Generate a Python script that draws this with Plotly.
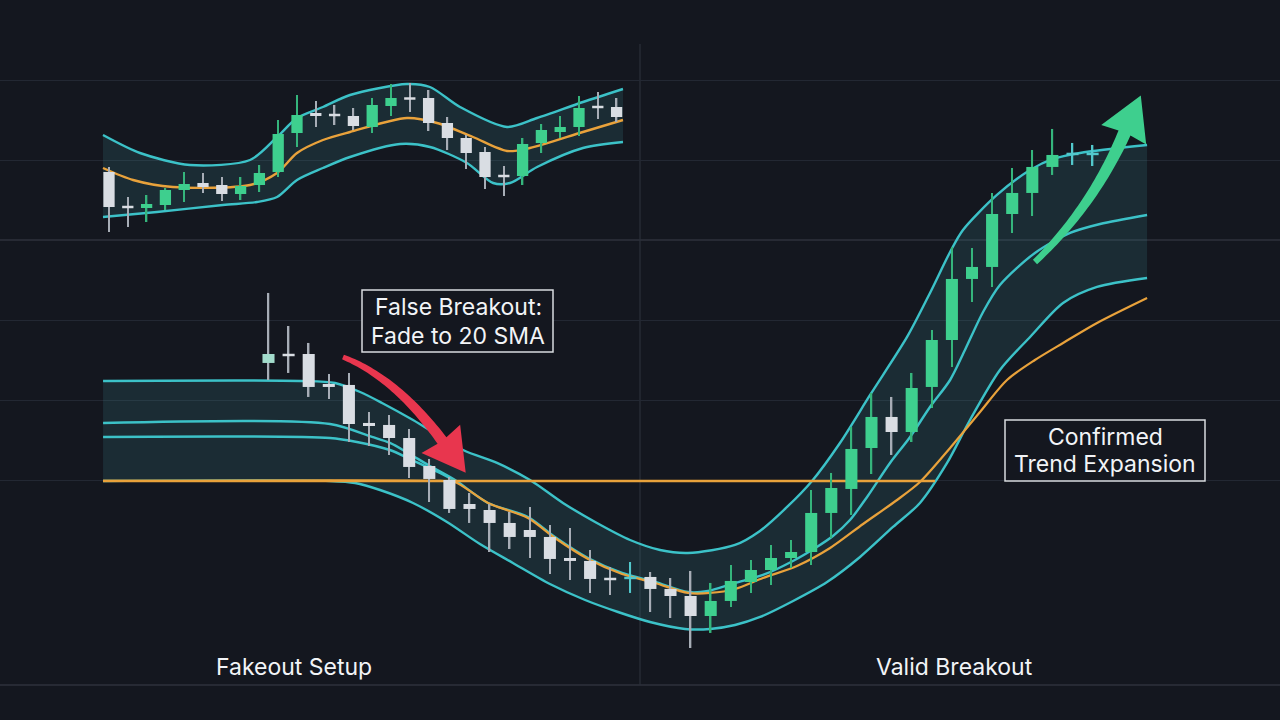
import math
import plotly.graph_objects as go

# ---------------- colours ----------------
BG = "#14171f"
GRID = "#232833"
SEP = "#3a3f4a"
CYAN = "#3cc2c8"
ORANGE = "#e9a23b"
GREEN = "#3ecf8e"
WHITE = "#d9dde3"
BAND_FILL = "rgba(56,130,140,0.20)"
TEXT = "#f2f4f7"
RED = "#e8364e"

BODY_COL = {"g": GREEN, "w": WHITE, "m": "#a3dccc", "t": "#52c8cc"}
WICK_COL = {"g": "#35b57c", "w": "#a7adb6", "m": "#a7adb6", "t": "#52c8cc"}

# ---------------- main chart data (bar index / price) ----------------
main_open = [54.63, 55.75, 55.75, 52.0, 51.88, 47.13, 46.88, 45.25, 41.75, 40.0, 37.0, 36.25, 34.63, 33.75,
             32.88, 30.25, 29.88, 27.75, 27.88, 27.88, 26.38, 25.5, 23.0, 24.88, 27.25, 28.75, 30.25, 31.0,
             35.88, 38.88, 44.0, 47.88, 46.0, 51.63, 57.5, 65.13, 66.63, 73.25, 75.88, 79.13, 80.63, 80.63]
main_close = [55.75, 55.5, 51.63, 51.63, 47.0, 46.75, 45.25, 41.63, 40.13, 36.38, 36.38, 34.63, 32.88, 32.88,
              30.13, 29.88, 27.63, 27.5, 27.63, 26.38, 25.5, 23.0, 24.88, 27.38, 28.75, 30.25, 31.0, 35.88,
              39.0, 43.88, 47.88, 46.0, 51.5, 57.5, 65.13, 66.63, 73.25, 75.88, 79.13, 80.63, 80.88, 80.88]
main_high = [63.38, 59.25, 57.13, 53.25, 53.38, 48.5, 48.13, 46.38, 42.63, 40.38, 38.38, 37.0, 36.0, 36.63,
             34.38, 34.0, 31.25, 29.13, 29.75, 28.5, 27.75, 28.63, 27.13, 29.38, 30.0, 31.88, 32.5, 38.75,
             40.88, 46.63, 50.88, 50.38, 53.38, 58.75, 69.13, 69.0, 75.88, 79.0, 81.25, 83.88, 82.13, 81.88]
main_low = [52.5, 53.38, 50.38, 50.13, 44.75, 44.25, 43.13, 40.25, 37.25, 35.88, 34.63, 31.0, 31.38, 30.25,
            28.25, 27.5, 25.88, 25.63, 25.88, 23.5, 22.75, 19.0, 20.88, 24.13, 25.88, 26.88, 29.0, 29.38,
            32.75, 35.63, 40.75, 43.13, 44.75, 49.0, 54.13, 62.25, 64.13, 70.88, 73.0, 78.13, 79.38, 79.25]
main_kind = ["m"] + ["w"] * 17 + ["t"] + ["w"] * 3 + ["g"] * 9 + ["w"] + ["g"] * 8 + ["t", "t"]

upper_x = [-8.23, 1.57, 3.31, 4.56, 5.65, 7.19, 9.68, 11.37, 13.01, 14.65, 16.34, 17.99, 19.48, 20.87,
           23.21, 24.45, 25.80, 27.04, 28.43, 29.93, 31.77, 32.91, 33.91, 34.55, 36.24, 37.89, 39.03, 40.37, 43.71]
upper_y = [52.38, 52.38, 52.13, 51.0, 49.63, 47.5, 43.75, 42.13, 40.0, 37.13, 34.63, 32.5, 31.25, 30.88,
           31.88, 33.63, 36.63, 39.88, 44.63, 50.63, 57.88, 63.38, 68.5, 71.25, 75.63, 78.75, 80.13, 80.88, 81.88]

mid_x = [-8.23, 3.06, 5.15, 6.04, 6.94, 7.94, 9.28, 10.92, 12.91, 14.25, 15.90, 17.59, 19.23, 20.87, 21.87,
         23.21, 24.60, 26.09, 27.28, 28.08, 28.93, 29.78, 30.92, 31.92, 32.91, 33.91, 34.65, 35.55, 36.39,
         38.13, 39.88, 41.37, 43.71]
mid_y = [47.13, 47.0, 45.38, 44.63, 43.38, 41.88, 40.0, 37.13, 35.38, 32.88, 30.25, 28.38, 27.25, 26.0, 26.13,
         27.13, 28.13, 29.88, 31.63, 33.0, 35.0, 37.88, 42.13, 45.38, 49.13, 52.5, 56.25, 61.0, 64.38,
         68.38, 70.88, 72.0, 73.13]

mid2_x = [-8.23, 3.06, 4.40, 6.04, 7.14, 8.53, 9.38]
mid2_y = [45.38, 45.25, 44.75, 43.75, 42.5, 40.88, 39.75]

lower_x = [-8.23, 3.06, 4.31, 5.55, 7.19, 8.88, 10.52, 12.16, 14.00, 15.75, 17.39, 18.98, 20.72, 21.97, 23.21,
           24.46, 26.10, 27.79, 29.43, 31.07, 32.41, 33.76, 34.90, 36.39, 37.89, 39.53, 41.22, 43.71]
lower_y = [39.88, 39.88, 39.63, 38.75, 37.13, 34.75, 32.0, 29.63, 27.0, 25.0, 23.5, 22.25, 21.38, 21.38, 21.88,
           22.88, 24.88, 27.25, 30.38, 34.13, 37.13, 42.13, 47.5, 53.75, 57.88, 62.13, 64.13, 65.25]

sma_x = [-8.23, 8.53, 9.28, 10.92, 12.91, 14.25, 15.90, 17.59, 19.23, 20.87, 21.97, 23.21, 24.60, 26.29,
         27.94, 29.58, 31.27, 32.41, 33.91, 35.40, 36.74, 38.13, 39.53, 41.22, 43.71]
sma_y = [39.88, 39.88, 39.75, 37.13, 35.25, 32.75, 30.13, 28.25, 27.13, 25.88, 25.88, 26.38, 27.75, 29.25,
         31.5, 34.5, 37.5, 39.75, 44.0, 48.5, 52.5, 55.0, 57.13, 59.63, 62.75]

level_x = [-8.23, 33.16]
level_y = [39.88, 39.88]

grid_prices = [40, 50, 60, 80, 90]
separator_price = 70

# ---------------- inset chart data ----------------
top_open = [57.0, 48.5, 48.0, 48.75, 52.5, 54.25, 53.75, 51.5, 53.75, 57.0, 66.75, 71.75, 71.5, 71.0,
            68.25, 73.5, 75.5, 75.5, 69.25, 65.5, 62.0, 56.25, 56.0, 64.25, 67.0, 68.25, 73.5, 73.25]
top_close = [48.25, 48.0, 49.0, 52.5, 54.0, 53.25, 51.5, 53.5, 56.75, 66.5, 71.25, 71.0, 71.0, 68.5,
             73.75, 75.5, 75.25, 69.25, 65.5, 61.75, 55.75, 55.75, 64.0, 67.5, 68.25, 73.0, 73.0, 70.75]
top_high = [58.25, 50.75, 51.25, 53.0, 57.0, 56.75, 55.75, 55.75, 58.75, 70.0, 76.25, 74.75, 73.75, 73.0,
            75.5, 79.0, 79.25, 77.5, 70.75, 66.25, 63.25, 58.5, 65.5, 69.0, 71.0, 76.0, 77.0, 75.5]
top_low = [42.0, 43.25, 44.5, 47.5, 49.5, 51.75, 49.75, 50.0, 52.0, 55.75, 63.25, 68.25, 68.75, 67.5,
           66.75, 71.0, 72.0, 67.25, 62.5, 57.75, 52.75, 51.0, 53.75, 61.75, 65.5, 66.0, 70.25, 69.5]
top_kind = list("wwgggwwggggwwwggwwwwwwggggww")

top_upper_x = [-0.32, 1.65, 4.31, 7.5, 8.94, 10.0, 11.38, 12.82, 15.85, 17.07, 18.67, 21.17, 22.77, 25.21, 27.34]
top_upper_y = [66.25, 61.75, 58.75, 60.0, 65.75, 70.5, 73.25, 76.25, 79.0, 78.25, 73.25, 68.25, 70.5, 74.5, 77.75]
top_mid_x = [-0.32, 1.28, 3.40, 7.5, 8.94, 10.0, 11.38, 12.82, 15.85, 17.45, 19.36, 21.17, 22.39, 25.21, 27.34]
top_mid_y = [58.0, 55.0, 53.25, 53.75, 56.75, 61.75, 65.0, 67.0, 70.5, 69.25, 65.75, 62.25, 63.0, 67.0, 70.0]
top_lower_x = [-0.32, 2.55, 6.06, 7.87, 8.94, 10.0, 11.38, 12.82, 15.48, 17.07, 19.04, 20.43, 21.33, 22.77,
               25.21, 27.34]
top_lower_y = [45.75, 47.0, 48.75, 49.5, 50.75, 55.0, 58.0, 60.75, 64.0, 63.25, 59.25, 54.25, 54.25, 58.25,
               63.0, 64.5]

# ---------------- figure ----------------
fig = go.Figure()


def line(x, y, color, width, xa, ya, fill=None):
    return go.Scatter(x=x, y=y, mode="lines", xaxis=xa, yaxis=ya, hoverinfo="skip",
                      line=dict(color=color, width=width, shape="spline", smoothing=0.8),
                      fill=fill, fillcolor=BAND_FILL if fill else None)


def candles(o, h, l, c, kinds, xa, ya, body_w, wick_w, min_body):
    x = list(range(len(o)))
    wick = go.Bar(x=x, y=[hh - ll for hh, ll in zip(h, l)], base=l, width=wick_w, xaxis=xa, yaxis=ya,
                  marker=dict(color=[WICK_COL[k] for k in kinds], line=dict(width=0)), hoverinfo="skip")
    bases, heights = [], []
    for oo, cc in zip(o, c):
        lo, hi = min(oo, cc), max(oo, cc)
        if hi - lo < min_body:
            mid = (hi + lo) / 2
            lo, hi = mid - min_body / 2, mid + min_body / 2
        bases.append(lo)
        heights.append(hi - lo)
    body = go.Bar(x=x, y=heights, base=bases, width=body_w, xaxis=xa, yaxis=ya,
                  marker=dict(color=[BODY_COL[k] for k in kinds], line=dict(width=0)), hoverinfo="skip")
    return [wick, body]


# main bands (x, y)
fig.add_trace(line(upper_x, upper_y, CYAN, 2.4, "x", "y"))
fig.add_trace(line(lower_x, lower_y, CYAN, 2.4, "x", "y", fill="tonexty"))
fig.add_trace(line(mid2_x, mid2_y, CYAN, 2.4, "x", "y"))
fig.add_trace(line(mid_x, mid_y, CYAN, 2.4, "x", "y"))
fig.add_trace(line(level_x, level_y, ORANGE, 2.6, "x", "y"))
fig.add_trace(line(sma_x, sma_y, ORANGE, 2.2, "x", "y"))

# inset bands (x2, y2)
fig.add_trace(line(top_upper_x, top_upper_y, CYAN, 2.4, "x2", "y2"))
fig.add_trace(line(top_lower_x, top_lower_y, CYAN, 2.4, "x2", "y2", fill="tonexty"))
fig.add_trace(line(top_mid_x, top_mid_y, ORANGE, 2.4, "x2", "y2"))

# candles on overlay axes so they sit above the bands
for t in candles(main_open, main_high, main_low, main_close, main_kind, "x3", "y3", 0.6, 0.075, 0.31):
    fig.add_trace(t)
for t in candles(top_open, top_high, top_low, top_close, top_kind, "x4", "y4", 0.6, 0.08, 0.62):
    fig.add_trace(t)

W, H = 1280, 720


def P(x, y):
    return x / W, 1 - y / H


def arrow_path(p0, p1, p2, w0, w1, head_len, head_w, n=40):
    left, right = [], []
    for k in range(n + 1):
        t = k / n
        bx = (1 - t) ** 2 * p0[0] + 2 * (1 - t) * t * p1[0] + t ** 2 * p2[0]
        by = (1 - t) ** 2 * p0[1] + 2 * (1 - t) * t * p1[1] + t ** 2 * p2[1]
        dx = 2 * (1 - t) * (p1[0] - p0[0]) + 2 * t * (p2[0] - p1[0])
        dy = 2 * (1 - t) * (p1[1] - p0[1]) + 2 * t * (p2[1] - p1[1])
        L = math.hypot(dx, dy)
        nx, ny = -dy / L, dx / L
        w = (w0 + (w1 - w0) * t) / 2
        left.append((bx + nx * w, by + ny * w))
        right.append((bx - nx * w, by - ny * w))
    ux, uy = dx / L, dy / L
    nx, ny = -uy, ux
    tip = (p2[0] + ux * head_len, p2[1] + uy * head_len)
    hl = (p2[0] + nx * head_w / 2 - ux * 2, p2[1] + ny * head_w / 2 - uy * 2)
    hr = (p2[0] - nx * head_w / 2 - ux * 2, p2[1] - ny * head_w / 2 - uy * 2)
    pts = left + [hl, tip, hr] + right[::-1]
    s = ""
    for i, (x, y) in enumerate(pts):
        px, py = P(x, y)
        s += ("M" if i == 0 else "L") + f"{px:.5f},{py:.5f} "
    return s + "Z"


shapes = []
# separators / frame lines
shapes.append(dict(type="line", xref="paper", yref="y", x0=0, x1=1, y0=separator_price, y1=separator_price,
                   line=dict(color=SEP, width=1.2), layer="below"))
shapes.append(dict(type="line", xref="paper", yref="paper", x0=0, x1=1, y0=1 - 685 / H, y1=1 - 685 / H,
                   line=dict(color=SEP, width=1.2), layer="below"))
shapes.append(dict(type="line", xref="paper", yref="paper", x0=640 / W, x1=640 / W, y0=1 - 44 / H,
                   y1=1 - 685 / H, line=dict(color="#2a2f3a", width=1.2), layer="below"))
# text boxes
for (x0, y0, x1, y1) in [(362, 290, 553, 352), (1005, 420, 1205, 481)]:
    a0, b0 = P(x0, y1)
    a1, b1 = P(x1, y0)
    shapes.append(dict(type="rect", xref="paper", yref="paper", x0=a0, x1=a1, y0=b0, y1=b1,
                       fillcolor=BG, line=dict(color="#d8dbe0", width=1.5), layer="above"))
# arrows
shapes.append(dict(type="path", xref="paper", yref="paper",
                   path=arrow_path((343, 357), (396, 378), (442, 440.5), 5, 11, 40, 48),
                   fillcolor=RED, line=dict(width=0), layer="above"))
shapes.append(dict(type="path", xref="paper", yref="paper",
                   path=arrow_path((1035, 262), (1092.7, 206.4), (1124.5, 133), 6, 13, 41, 49),
                   fillcolor=GREEN, line=dict(width=0), layer="above"))

annotations = []
for txt, x, y in [("False Breakout:", 458, 307), ("Fade to 20 SMA", 458, 336),
                  ("Confirmed", 1105, 437), ("Trend Expansion", 1105, 464),
                  ("Fakeout Setup", 294, 667), ("Valid Breakout", 954, 667)]:
    px, py = P(x, y)
    annotations.append(dict(text=txt, x=px, y=py, xref="paper", yref="paper", xanchor="center",
                            yanchor="middle", showarrow=False,
                            font=dict(family="Inter, Roboto, sans-serif", size=23, color=TEXT)))

hidden = dict(visible=False, showgrid=False, zeroline=False, fixedrange=True)
XR_MAIN = [-13.358, 50.323]
XR_TOP = [-5.798, 62.287]
fig.update_layout(
    width=W, height=H, margin=dict(l=0, r=0, t=0, b=0),
    paper_bgcolor=BG, plot_bgcolor=BG, showlegend=False, barmode="overlay",
    xaxis=dict(range=XR_MAIN, **hidden),
    yaxis=dict(range=[10, 100], showgrid=True, gridcolor=GRID, gridwidth=1, tickvals=grid_prices,
               showticklabels=False, ticks="", zeroline=False, showline=False, fixedrange=True),
    xaxis2=dict(range=XR_TOP, overlaying="x", anchor="y2", **hidden),
    yaxis2=dict(range=[-80, 100], overlaying="y", anchor="x2", **hidden),
    xaxis3=dict(range=XR_MAIN, overlaying="x", anchor="y3", **hidden),
    yaxis3=dict(range=[10, 100], overlaying="y", anchor="x3", **hidden),
    xaxis4=dict(range=XR_TOP, overlaying="x", anchor="y4", **hidden),
    yaxis4=dict(range=[-80, 100], overlaying="y", anchor="x4", **hidden),
    shapes=shapes, annotations=annotations,
)

fig.write_html(
    "out.html",
    config={"displayModeBar": False},
    post_script="document.body.style.margin='0';document.body.style.overflow='hidden';"
                "document.body.style.background='" + BG + "';",
)
